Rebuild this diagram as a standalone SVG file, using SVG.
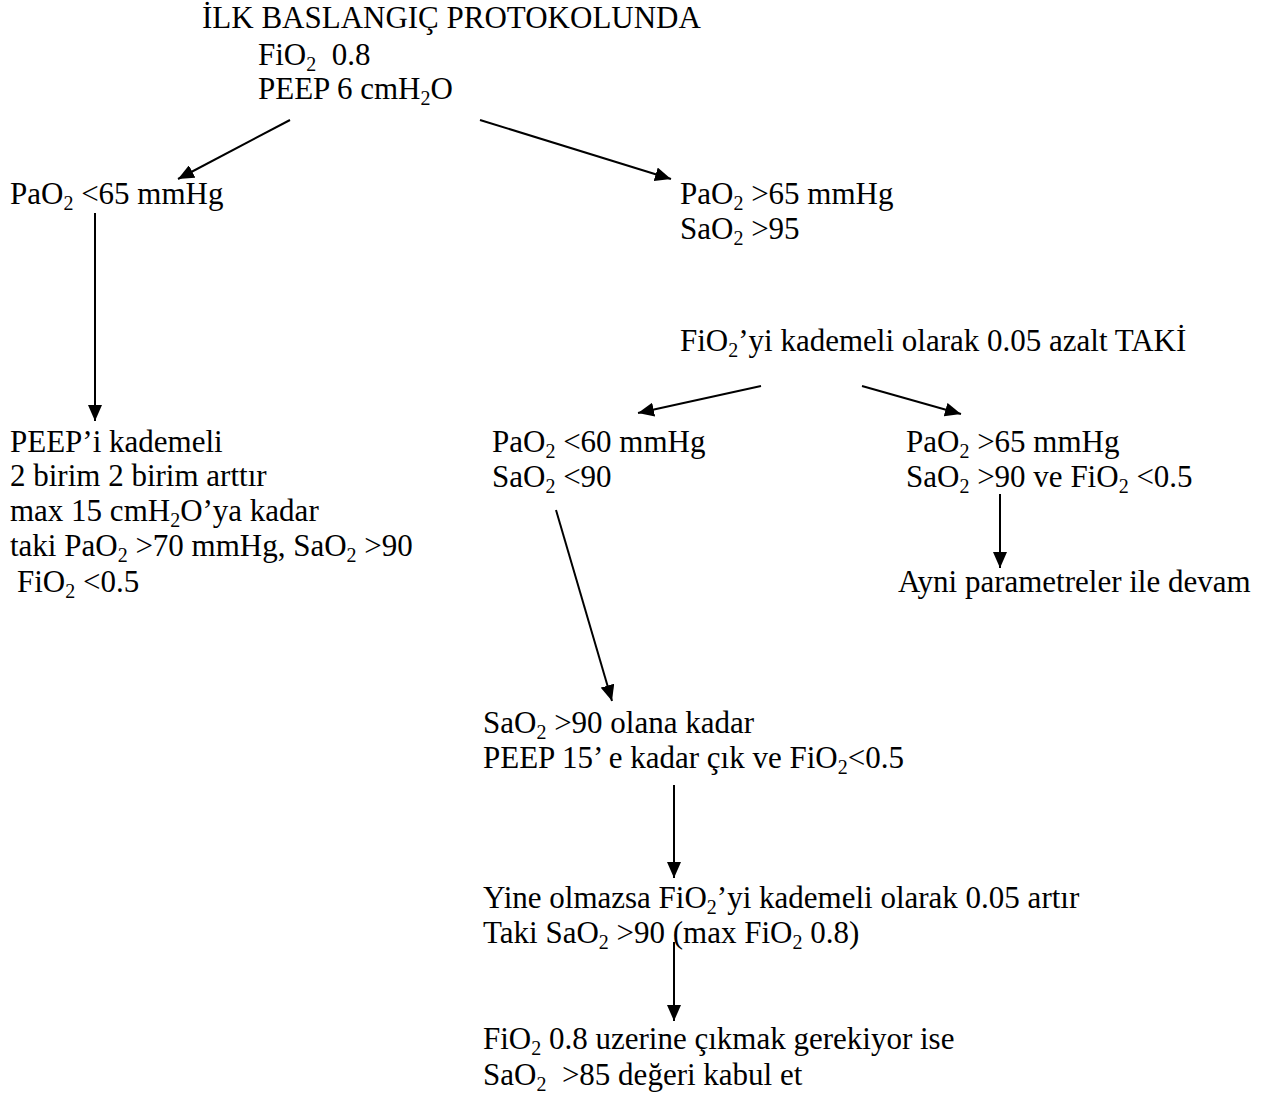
<svg xmlns="http://www.w3.org/2000/svg" width="1271" height="1097" viewBox="0 0 1271 1097">
<defs>
<style>
text{font-family:"Liberation Serif","Times New Roman",serif;font-size:31px;fill:#000}
.s{font-size:20px}
.c line{stroke:#000;stroke-width:2;fill:none}
</style>
<marker id="ah" markerUnits="userSpaceOnUse" markerWidth="18" markerHeight="14" refX="16" refY="7" orient="auto">
<path d="M0,0 L16,7 L0,14 Z" fill="#000"/>
</marker>
</defs>
<rect width="1271" height="1097" fill="#fff"/>
<g id="start">
<text x="202" y="28">İLK BASLANGIÇ PROTOKOLUNDA</text>
<text x="258" y="65">FiO<tspan class="s" dy="6">2</tspan><tspan dy="-6" xml:space="preserve">  0.8</tspan></text>
<text x="258" y="99">PEEP 6 cmH<tspan class="s" dy="6">2</tspan><tspan dy="-6">O</tspan></text>
</g>
<g id="low65">
<text x="10" y="204">PaO<tspan class="s" dy="6">2</tspan><tspan dy="-6"> &lt;65 mmHg</tspan></text>
</g>
<g id="high65">
<text x="680" y="204">PaO<tspan class="s" dy="6">2</tspan><tspan dy="-6"> &gt;65 mmHg</tspan></text>
<text x="680" y="239">SaO<tspan class="s" dy="6">2</tspan><tspan dy="-6"> &gt;95</tspan></text>
</g>
<g id="decrease">
<text x="680" y="351">FiO<tspan class="s" dy="6">2</tspan><tspan dy="-6">’yi kademeli olarak 0.05 azalt TAKİ</tspan></text>
</g>
<g id="peep">
<text x="10" y="452">PEEP’i kademeli</text>
<text x="10" y="486">2 birim 2 birim arttır</text>
<text x="10" y="521">max 15 cmH<tspan class="s" dy="6">2</tspan><tspan dy="-6">O’ya kadar</tspan></text>
<text x="10" y="556">taki PaO<tspan class="s" dy="6">2</tspan><tspan dy="-6"> &gt;70 mmHg, SaO</tspan><tspan class="s" dy="6">2</tspan><tspan dy="-6"> &gt;90</tspan></text>
<text x="17" y="592">FiO<tspan class="s" dy="6">2</tspan><tspan dy="-6"> &lt;0.5</tspan></text>
</g>
<g id="low60">
<text x="492" y="452">PaO<tspan class="s" dy="6">2</tspan><tspan dy="-6"> &lt;60 mmHg</tspan></text>
<text x="492" y="487">SaO<tspan class="s" dy="6">2</tspan><tspan dy="-6"> &lt;90</tspan></text>
</g>
<g id="ok">
<text x="906" y="452">PaO<tspan class="s" dy="6">2</tspan><tspan dy="-6"> &gt;65 mmHg</tspan></text>
<text x="906" y="487">SaO<tspan class="s" dy="6">2</tspan><tspan dy="-6"> &gt;90 ve FiO</tspan><tspan class="s" dy="6">2</tspan><tspan dy="-6"> &lt;0.5</tspan></text>
</g>
<g id="continue">
<text x="898" y="592">Ayni parametreler ile devam</text>
</g>
<g id="peep15">
<text x="483" y="733">SaO<tspan class="s" dy="6">2</tspan><tspan dy="-6"> &gt;90 olana kadar</tspan></text>
<text x="483" y="768">PEEP 15’ e kadar çık ve FiO<tspan class="s" dy="6">2</tspan><tspan dy="-6">&lt;0.5</tspan></text>
</g>
<g id="increase">
<text x="483" y="908">Yine olmazsa FiO<tspan class="s" dy="6">2</tspan><tspan dy="-6">’yi kademeli olarak 0.05 artır</tspan></text>
<text x="483" y="943">Taki SaO<tspan class="s" dy="6">2</tspan><tspan dy="-6"> &gt;90 (max FiO</tspan><tspan class="s" dy="6">2</tspan><tspan dy="-6"> 0.8)</tspan></text>
</g>
<g id="accept">
<text x="483" y="1049">FiO<tspan class="s" dy="6">2</tspan><tspan dy="-6"> 0.8 uzerine çıkmak gerekiyor ise</tspan></text>
<text x="483" y="1085" xml:space="preserve">SaO<tspan class="s" dy="6">2</tspan><tspan dy="-6">  &gt;85 değeri kabul et</tspan></text>
</g>
<g id="connectors" class="c">
<line x1="290" y1="120" x2="178" y2="179" marker-end="url(#ah)"/>
<line x1="480" y1="120" x2="671" y2="179" marker-end="url(#ah)"/>
<line x1="95" y1="213" x2="95" y2="421" marker-end="url(#ah)"/>
<line x1="761" y1="386" x2="638" y2="413" marker-end="url(#ah)"/>
<line x1="862" y1="386" x2="961" y2="414" marker-end="url(#ah)"/>
<line x1="556" y1="510" x2="612" y2="701" marker-end="url(#ah)"/>
<line x1="1000" y1="494" x2="1000" y2="568" marker-end="url(#ah)"/>
<line x1="674" y1="785" x2="674" y2="878" marker-end="url(#ah)"/>
<line x1="674" y1="942" x2="674" y2="1021" marker-end="url(#ah)"/>
</g>
</svg>
